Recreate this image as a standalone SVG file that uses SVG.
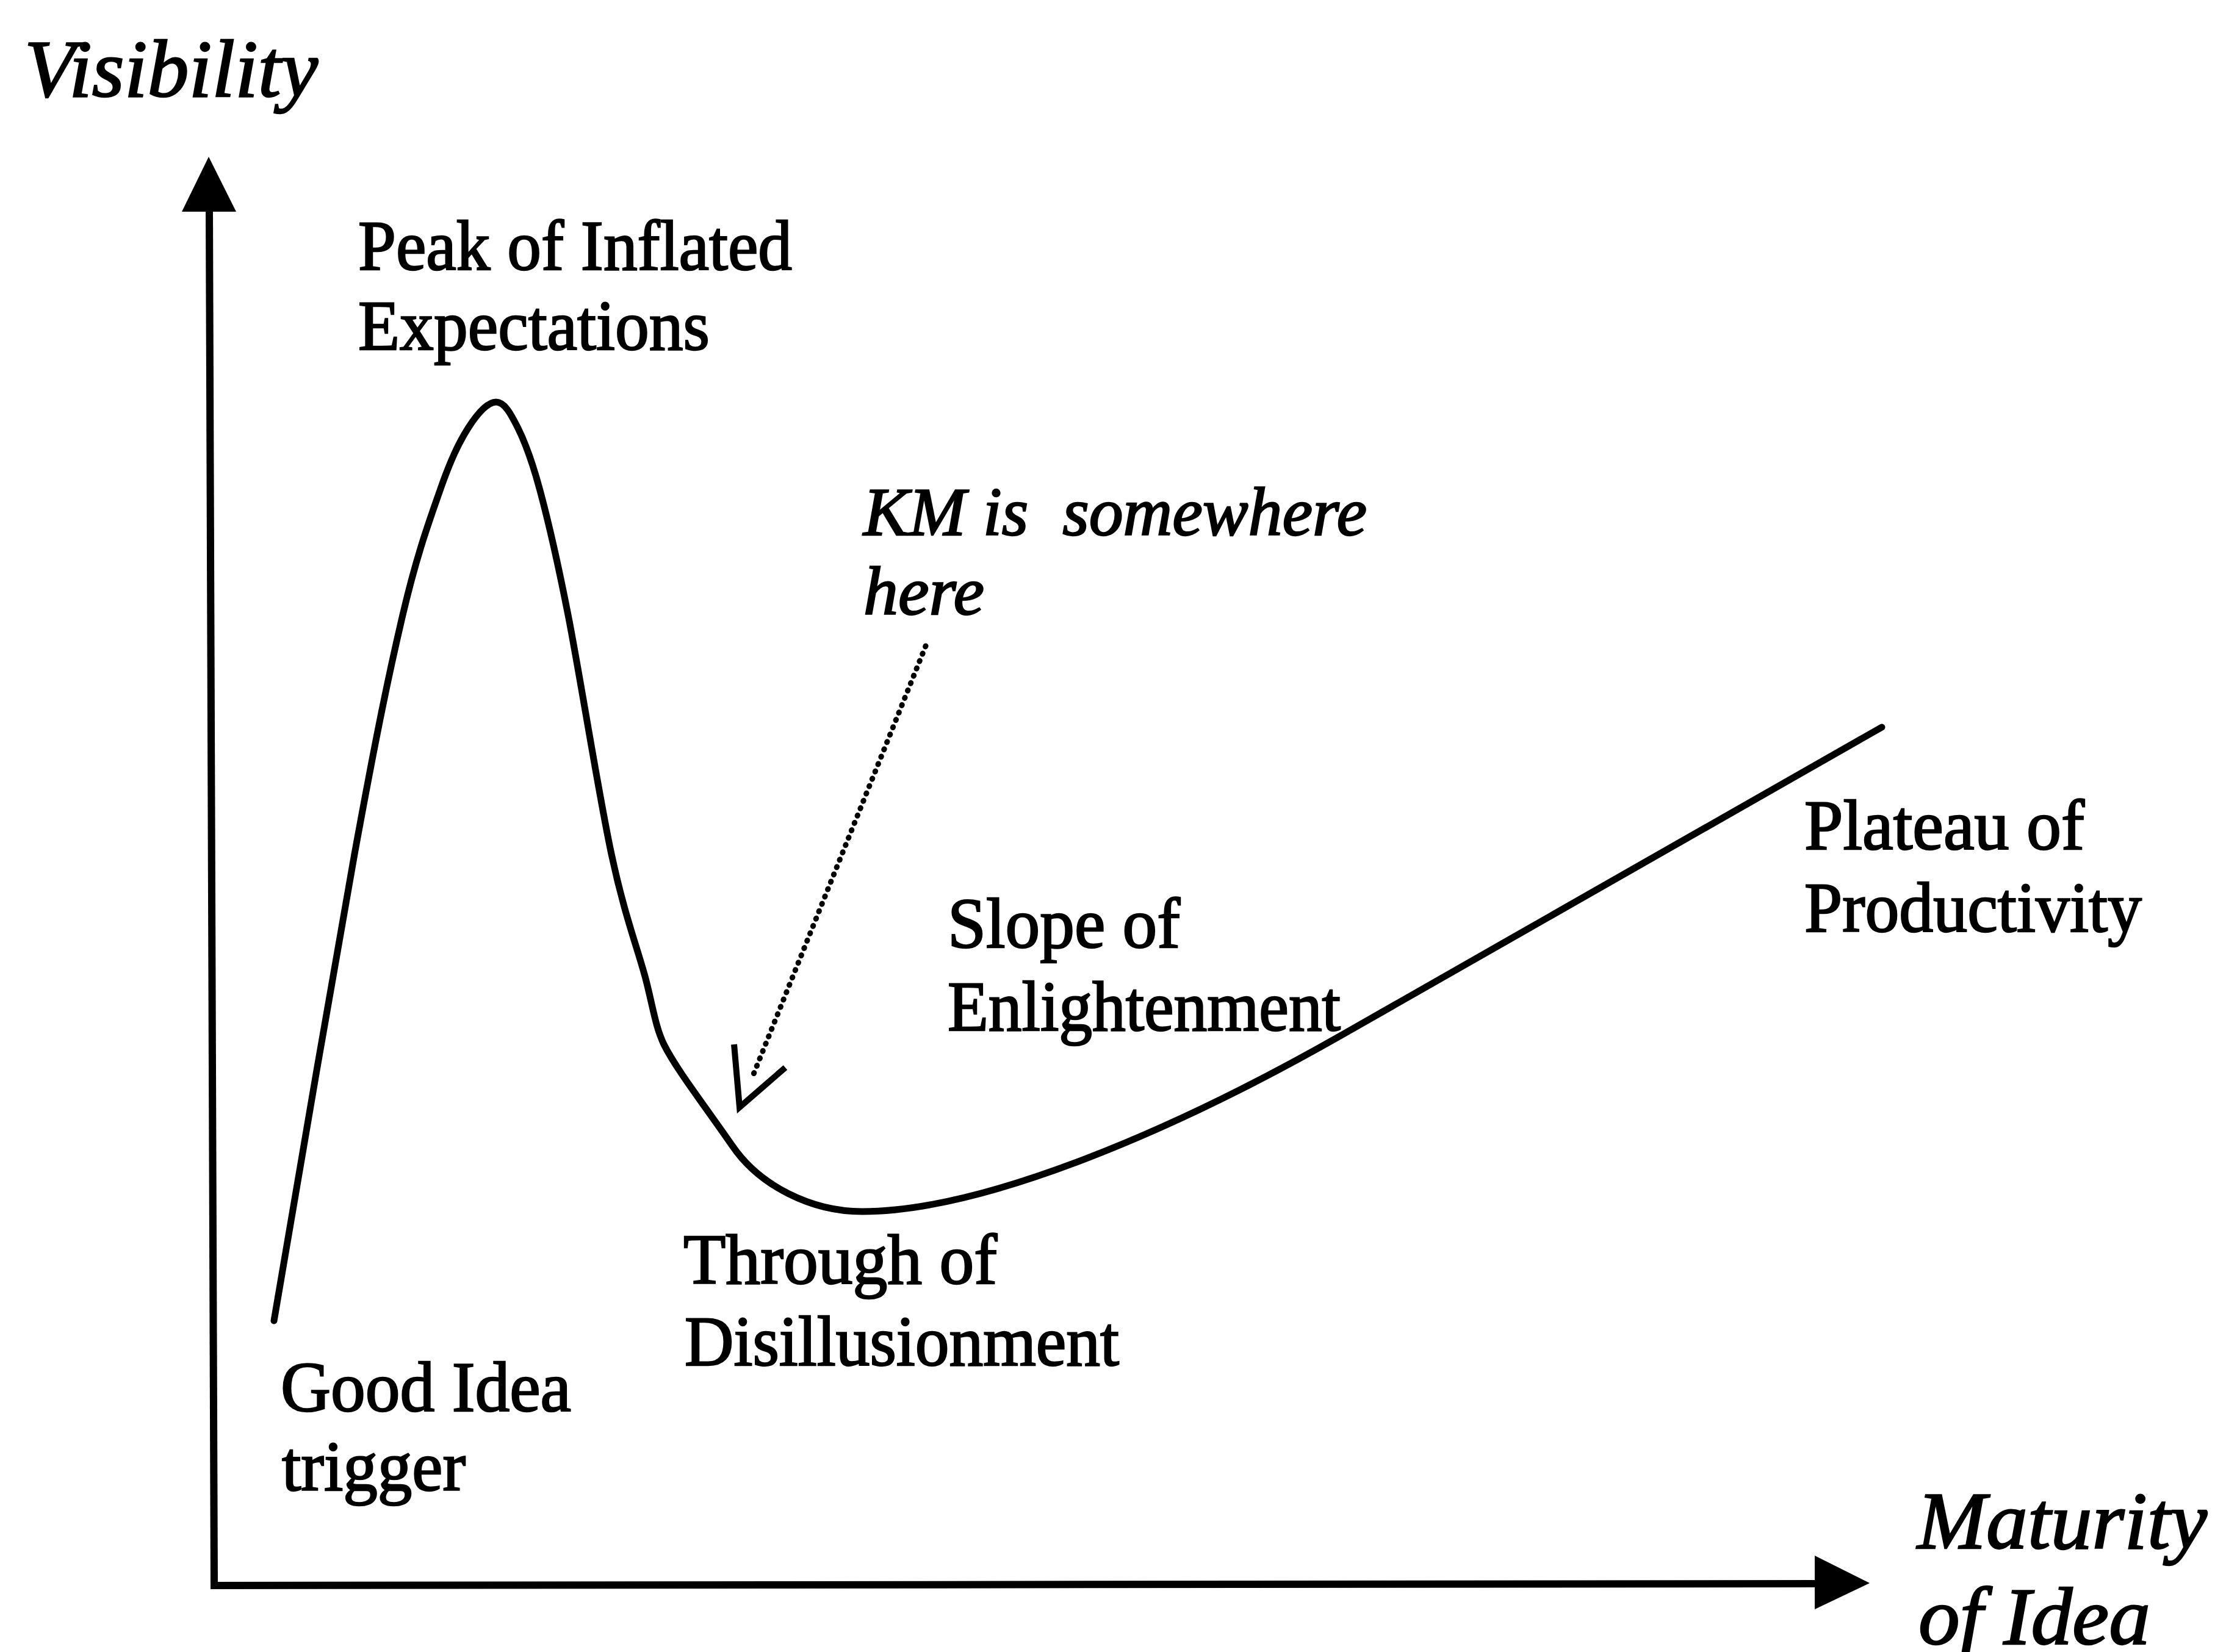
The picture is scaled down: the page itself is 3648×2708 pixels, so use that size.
<svg xmlns="http://www.w3.org/2000/svg" width="3648" height="2708" viewBox="0 0 3648 2708">
  <style>
    .lbl { font-family: "Liberation Serif", "Times New Roman", serif; font-size: 116px; fill: #000; stroke: #000; stroke-width: 2.5; }
    .ital { font-family: "Liberation Serif", "Times New Roman", serif; font-style: italic; fill: #000; stroke: #000; stroke-width: 2.5; }
    .axis { stroke: #000; stroke-width: 12; fill: none; stroke-linecap: square; }
    .curve { stroke: #000; stroke-width: 11; fill: none; stroke-linejoin: round; stroke-linecap: round; }
    .dots { stroke: #000; stroke-width: 9; fill: none; stroke-dasharray: 1 12; stroke-linecap: round; }
    .head { stroke: #000; stroke-width: 10; fill: none; stroke-linejoin: miter; stroke-linecap: butt; }
  </style>
  <rect width="3648" height="2708" fill="#fff"/>

  <!-- axes -->
  <g id="axes">
    <line class="axis" x1="343" y1="345" x2="351" y2="2599"/>
    <line class="axis" x1="351" y1="2599" x2="2978" y2="2596"/>
    <polygon points="342,257 387,347 298,347" fill="#000"/>
    <polygon points="3064,2595 2974,2550 2974,2638" fill="#000"/>
    <text class="ital" x="40" y="158" font-size="133" textLength="481" lengthAdjust="spacingAndGlyphs">Visibility</text>
    <text class="ital" x="3142" y="2538" font-size="134" textLength="475" lengthAdjust="spacingAndGlyphs">Maturity</text>
    <text class="ital" x="3144" y="2695" font-size="134" textLength="380" lengthAdjust="spacingAndGlyphs">of Idea</text>
  </g>

  <!-- hype curve: rise, peak, fall, trough, then the long straight climb -->
  <g id="hype-curve">
    <path class="curve" d="M449,2165
      C471,2037.5 545.8,1592.8 581,1400
      C616.2,1207.2 636.7,1107.3 660,1008
      C683.3,908.7 703.2,855 721,804
      C738.8,753 751.7,726.2 767,702
      C782.3,677.8 799.3,659 813,659
      C826.7,659 837,677.8 849,702
      C861,726.2 871.3,753 885,804
      C898.7,855 911.5,908.7 931,1008
      C950.5,1107.3 980.8,1300.7 1002,1400
      C1023.2,1499.3 1044,1552 1058,1604
      C1070,1650 1074,1683 1088,1712
      C1108,1752 1150,1806 1200,1878
      C1245,1944 1330,1986 1413,1986
      C1600,1986 1900,1867 2200,1696
      L3084,1192"/>
  </g>

  <!-- phase labels -->
  <g id="peak">
    <text class="lbl" x="587" y="442" textLength="711" lengthAdjust="spacingAndGlyphs">Peak of Inflated</text>
    <text class="lbl" x="587" y="573" textLength="576" lengthAdjust="spacingAndGlyphs">Expectations</text>
  </g>
  <g id="trigger">
    <text class="lbl" x="460" y="2313" textLength="476" lengthAdjust="spacingAndGlyphs">Good Idea</text>
    <text class="lbl" x="462" y="2443" textLength="301" lengthAdjust="spacingAndGlyphs">trigger</text>
  </g>
  <g id="trough">
    <text class="lbl" x="1120" y="2104" textLength="514" lengthAdjust="spacingAndGlyphs">Through of</text>
    <text class="lbl" x="1122" y="2238" textLength="712" lengthAdjust="spacingAndGlyphs">Disillusionment</text>
  </g>
  <g id="slope">
    <text class="lbl" x="1553" y="1553" textLength="381" lengthAdjust="spacingAndGlyphs">Slope of</text>
    <text class="lbl" x="1553" y="1689" textLength="644" lengthAdjust="spacingAndGlyphs">Enlightenment</text>
  </g>
  <g id="plateau">
    <text class="lbl" x="2957" y="1392" textLength="459" lengthAdjust="spacingAndGlyphs">Plateau of</text>
    <text class="lbl" x="2957" y="1527" textLength="553" lengthAdjust="spacingAndGlyphs">Productivity</text>
  </g>
  <g id="km-note">
    <text class="ital" x="1415" y="877" font-size="112" style="white-space:pre" textLength="825" lengthAdjust="spacingAndGlyphs">KM is  somewhere</text>
    <text class="ital" x="1415" y="1007" font-size="112" textLength="198" lengthAdjust="spacingAndGlyphs">here</text>
  </g>

  <!-- pointer from the note down to the curve -->
  <g id="connectors">
    <line class="dots" x1="1517" y1="1059" x2="1234" y2="1763"/>
    <polyline class="head" points="1203,1712 1212,1815 1287,1750"/>
  </g>
</svg>
